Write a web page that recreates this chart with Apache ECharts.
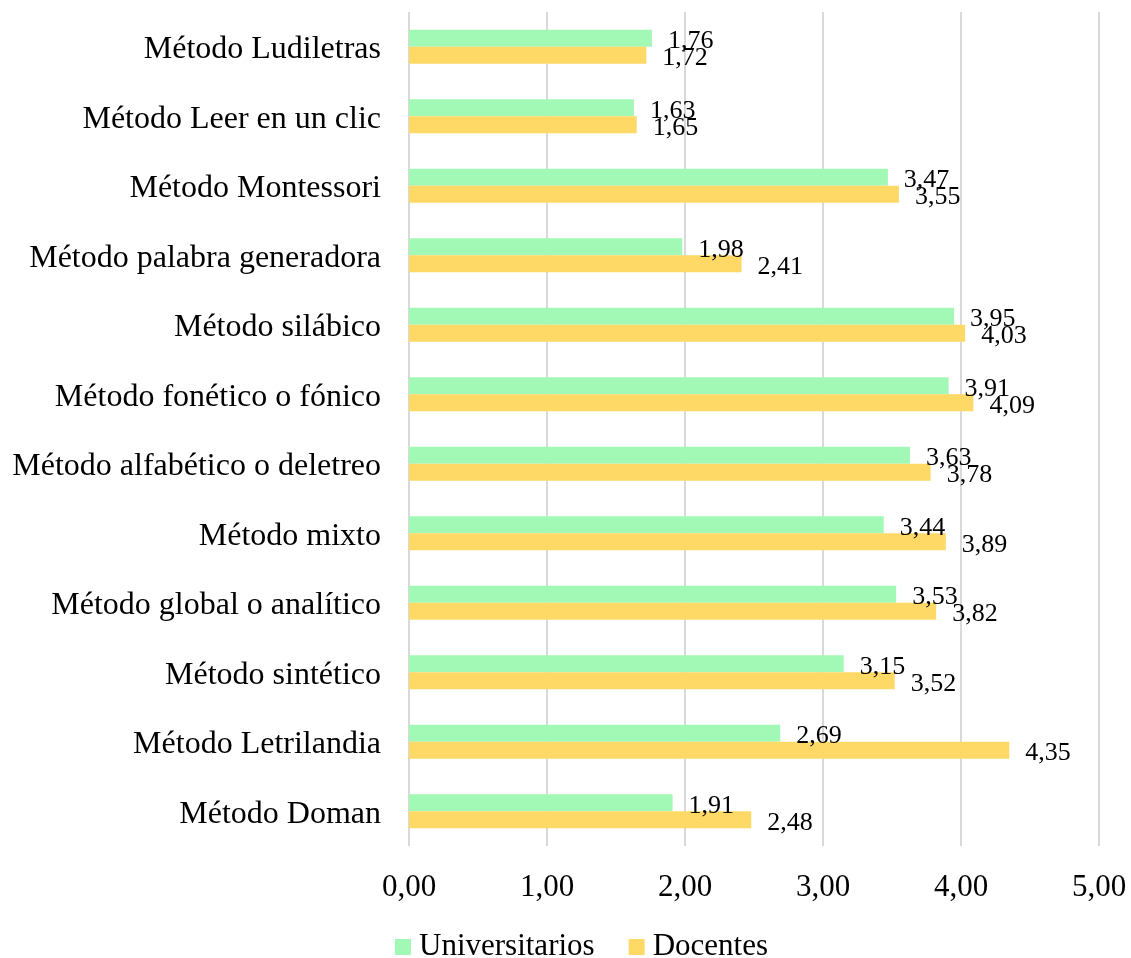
<!DOCTYPE html>
<html>
<head>
<meta charset="utf-8">
<script src="https://cdn.jsdelivr.net/npm/echarts@6/dist/echarts.min.js"></script>
<style>
  html, body { margin: 0; padding: 0; background: #fff; }
  #chart { width: 1131px; height: 958px; }
</style>
</head>
<body>
<div id="chart"></div>
<script>
// Methods, top to bottom
const categories = [
  'Método Ludiletras',
  'Método Leer en un clic',
  'Método Montessori',
  'Método palabra generadora',
  'Método silábico',
  'Método fonético o fónico',
  'Método alfabético o deletreo',
  'Método mixto',
  'Método global o analítico',
  'Método sintético',
  'Método Letrilandia',
  'Método Doman'
];
const universitarios = [1.76, 1.63, 3.47, 1.98, 3.95, 3.91, 3.63, 3.44, 3.53, 3.15, 2.69, 1.91];
const docentes = [1.72, 1.65, 3.55, 2.41, 4.03, 4.09, 3.78, 3.89, 3.82, 3.52, 4.35, 2.48];

const FONT = '"Liberation Serif", "Times New Roman", serif';
const fmt = v => Number(v).toFixed(2).replace('.', ',');

const valueLabel = {
  show: true,
  position: 'right',
  distance: 16,
  offset: [0, 3],
  fontFamily: FONT,
  fontSize: 26,
  color: '#000',
  formatter: p => fmt(p.value)
};

const chart = echarts.init(document.getElementById('chart'));
chart.setOption({
  animation: false,
  textStyle: { fontFamily: FONT, color: '#000' },
  grid: { left: 409, right: 32, top: 12, bottom: 112, containLabel: false },
  legend: {
    top: 926,
    left: 390,
    itemWidth: 16,
    itemHeight: 16,
    itemGap: 34,
    icon: 'rect',
    textStyle: { fontFamily: FONT, fontSize: 31, lineHeight: 32, color: '#000', padding: [0, 0, 0, 3] },
    data: ['Universitarios', 'Docentes']
  },
  xAxis: {
    type: 'value',
    min: 0,
    max: 5,
    interval: 1,
    axisLine: { show: false },
    axisTick: { show: false },
    axisLabel: { fontFamily: FONT, fontSize: 31, color: '#000', margin: 26, formatter: fmt },
    splitLine: { lineStyle: { color: '#d9d9d9', width: 2 } }
  },
  yAxis: {
    type: 'category',
    inverse: true,
    data: categories,
    axisLine: { show: false },
    axisTick: { show: false },
    axisLabel: { fontFamily: FONT, fontSize: 32, color: '#000', margin: 28, verticalAlign: 'top', lineHeight: 6 }
  },
  series: [
    {
      name: 'Universitarios',
      type: 'bar',
      data: universitarios,
      barWidth: 17,
      barGap: '0%',
      itemStyle: { color: '#A2F9B5' },
      label: valueLabel
    },
    {
      name: 'Docentes',
      type: 'bar',
      data: docentes,
      barWidth: 17,
      barGap: '0%',
      itemStyle: { color: '#FFD966' },
      label: valueLabel
    }
  ]
});
</script>
</body>
</html>
